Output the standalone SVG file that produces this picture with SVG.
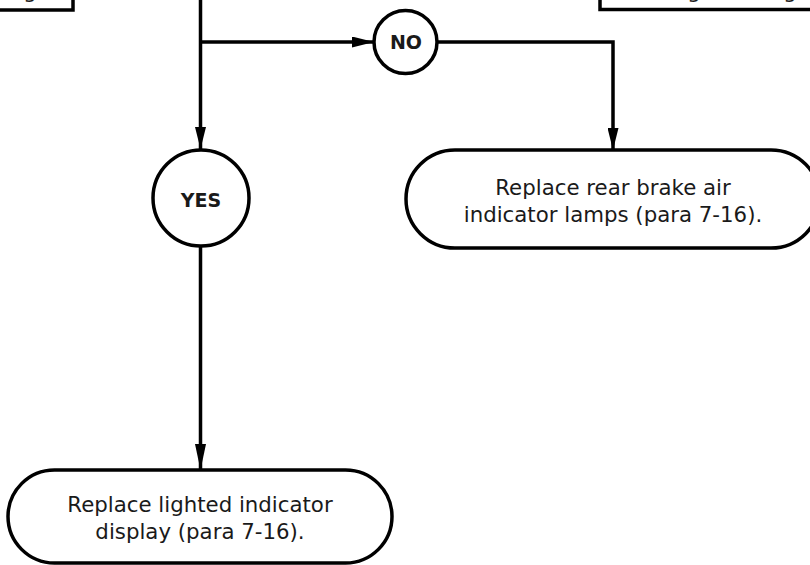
<svg xmlns="http://www.w3.org/2000/svg" width="810" height="565" viewBox="0 0 810 565">
<defs>
<marker id="ah" markerUnits="userSpaceOnUse" markerWidth="22" markerHeight="11" refX="22" refY="5.5" orient="auto">
<path d="M0,0 L22,5.5 L0,11 z" fill="#000"/>
</marker>
<marker id="ahv" markerUnits="userSpaceOnUse" markerWidth="26" markerHeight="11" refX="26" refY="5.5" orient="auto">
<path d="M0,0 L26,5.5 L0,11 z" fill="#000"/>
</marker>
<style>
.box{fill:#fff;stroke:#000;stroke-width:3.5}
.ln{fill:none;stroke:#000;stroke-width:3.5}
.t{font-family:"DejaVu Sans",Verdana,sans-serif;font-size:21.3px;fill:#1a1a1a;text-anchor:middle}
.b{font-family:"DejaVu Sans",Verdana,sans-serif;font-size:19px;font-weight:bold;fill:#1a1a1a;text-anchor:middle}
</style>
</defs>
<rect width="810" height="565" fill="#fff"/>
<g id="top-left-box">
<rect class="box" x="-20" y="-40" width="93" height="50"/>
<text class="t" x="30" y="-2">g</text>
</g>
<g id="top-right-box">
<rect class="box" x="600" y="-40" width="240" height="49.5"/>
<text class="t" x="694" y="-2">g</text>
<text class="t" x="790" y="-2">g</text>
</g>
<g id="connectors">
<path class="ln" d="M200.5,0 V149" marker-end="url(#ah)"/>
<path class="ln" d="M200.5,42 H374" marker-end="url(#ah)"/>
<path class="ln" d="M437,42 H613 V150" marker-end="url(#ah)"/>
<path class="ln" d="M200.5,246 V470" marker-end="url(#ahv)"/>
</g>
<g id="no">
<circle class="box" cx="405.5" cy="42" r="31.5"/>
<text class="b" x="406" y="49">NO</text>
</g>
<g id="yes">
<circle class="box" cx="201" cy="198" r="48"/>
<text class="b" x="201" y="207">YES</text>
</g>
<g id="replace-lamps">
<rect class="box" x="406" y="150" width="414" height="98" rx="49"/>
<text class="t" x="613" y="195">Replace rear brake air</text>
<text class="t" x="613" y="222">indicator lamps (para 7-16).</text>
</g>
<g id="replace-display">
<rect class="box" x="8" y="470" width="384" height="93" rx="46.5"/>
<text class="t" x="200" y="512">Replace lighted indicator</text>
<text class="t" x="200" y="539">display (para 7-16).</text>
</g>
</svg>
